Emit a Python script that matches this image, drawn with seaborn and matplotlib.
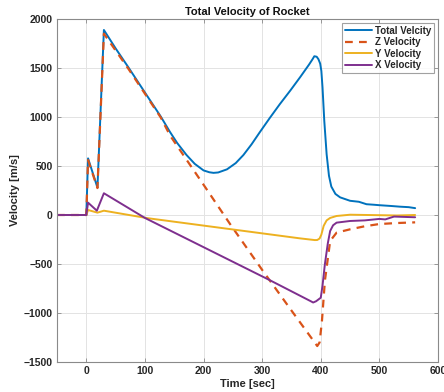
import matplotlib
matplotlib.use("Agg")
import matplotlib.pyplot as plt
import seaborn as sns
import numpy as np

sns.set_theme(style="white")
plt.rcParams['font.family'] = ['Liberation Sans', 'DejaVu Sans']

# ---- data ----
t_total = [-50, 0, 3, 19, 30, 50, 72, 100, 127, 143, 155, 171, 185, 200, 210, 217, 225,
           240, 255, 268, 282, 296, 313, 330, 348, 365, 380, 386, 389, 393, 396, 399,
           401, 403, 406, 410, 414, 418, 425, 433, 450, 465, 478, 490, 500, 520, 535,
           550, 561]
v_total = [0, 0, 578, 280, 1888, 1700, 1505, 1250, 1005, 845, 735, 612, 522, 455, 436, 430, 434,
           466, 530, 612, 722, 845, 990, 1130, 1270, 1408, 1535, 1590, 1620, 1615, 1590, 1545,
           1470, 1300, 960, 620, 400, 290, 215, 180, 145, 135, 110, 105, 100, 92, 85,
           80, 70]

t_z = [-50, 0, 3, 19, 30, 72, 127, 143, 205, 245, 300, 350, 394, 398, 402, 407, 416,
       427, 450, 475, 500, 530, 561]
v_z = [0, 0, 560, 275, 1850, 1490, 995, 810, 265, -90, -560, -975, -1337, -1300, -1082,
       -673, -265, -180, -146, -115, -92, -82, -75]

t_y = [-50, 0, 3, 19, 30, 104, 364, 390, 394, 398, 401, 405, 410, 416, 427, 450, 480,
       500, 530, 561]
v_y = [0, 0, 51, 24, 44, -32, -238, -256, -255, -240, -200, -110, -55, -30, -10, 3, 0,
       -2, -5, 0]

t_x = [-50, 0, 3, 18, 30, 100, 313, 383, 387, 392, 400, 403, 407, 412, 416, 421, 427,
       450, 475, 500, 510, 525, 545, 561]
v_x = [0, 0, 126, 44, 222, -30, -665, -880, -893, -880, -844, -720, -503, -290, -163,
       -105, -78, -61, -55, -40, -45, -16, -20, -23]

xticks = [0, 100, 200, 300, 400, 500, 600]
yticks = [-1500, -1000, -500, 0, 500, 1000, 1500, 2000]

labels = ["Total Velcity", "Z Velocity", "Y Velocity", "X Velocity"]
colors = ["#0072BD", "#D95319", "#EDB120", "#7E2F8E"]

fig = plt.figure(figsize=(4.44, 3.92), dpi=100)
ax = fig.add_axes([57/444, 1-362/392, (438-57)/444, (362-19)/392])

lw = 1.4
sns.lineplot(x=t_total, y=v_total, ax=ax, color=colors[0], lw=lw, label=labels[0],
             sort=False, estimator=None)
sns.lineplot(x=t_z, y=v_z, ax=ax, color=colors[1], lw=lw+0.2, label=labels[1],
             sort=False, estimator=None)
ax.lines[-1].set_dashes([3.5, 2.8])
sns.lineplot(x=t_y, y=v_y, ax=ax, color=colors[2], lw=lw, label=labels[2],
             sort=False, estimator=None)
sns.lineplot(x=t_x, y=v_x, ax=ax, color=colors[3], lw=lw, label=labels[3],
             sort=False, estimator=None)

ax.set_xlim(-50, 600)
ax.set_ylim(-1500, 2000)
ax.set_xticks(xticks)
ax.set_yticks(yticks)
ax.grid(True, color="#e3e3e3", lw=0.7)
for s in ax.spines.values():
    s.set_color("#8a8a8a")
    s.set_linewidth(0.8)
ax.tick_params(direction="in", length=3, width=0.6, color="#8a8a8a",
               top=True, right=True, bottom=True, left=True,
               labelsize=7.5, labelcolor="#262626", pad=3)
for lab in ax.get_xticklabels() + ax.get_yticklabels():
    lab.set_fontweight("bold")

ax.set_title("Total Velocity of Rocket", fontsize=8, fontweight="bold", color="#111111", pad=3)
ax.set_xlabel("Time [sec]", fontsize=8, fontweight="bold", color="#262626", labelpad=2)
ax.set_ylabel("Velocity [m/s]", fontsize=8, fontweight="bold", color="#262626", labelpad=3)

leg = ax.legend(loc="upper right", fontsize=7, frameon=True, fancybox=False,
                handlelength=2.8, handletextpad=0.3, borderpad=0.3, labelspacing=0.15,
                borderaxespad=0.4)
leg.get_frame().set_edgecolor("#8a8a8a")
leg.get_frame().set_linewidth(0.8)
for txt in leg.get_texts():
    txt.set_fontweight("bold")

fig.savefig("out.png", dpi=100)
